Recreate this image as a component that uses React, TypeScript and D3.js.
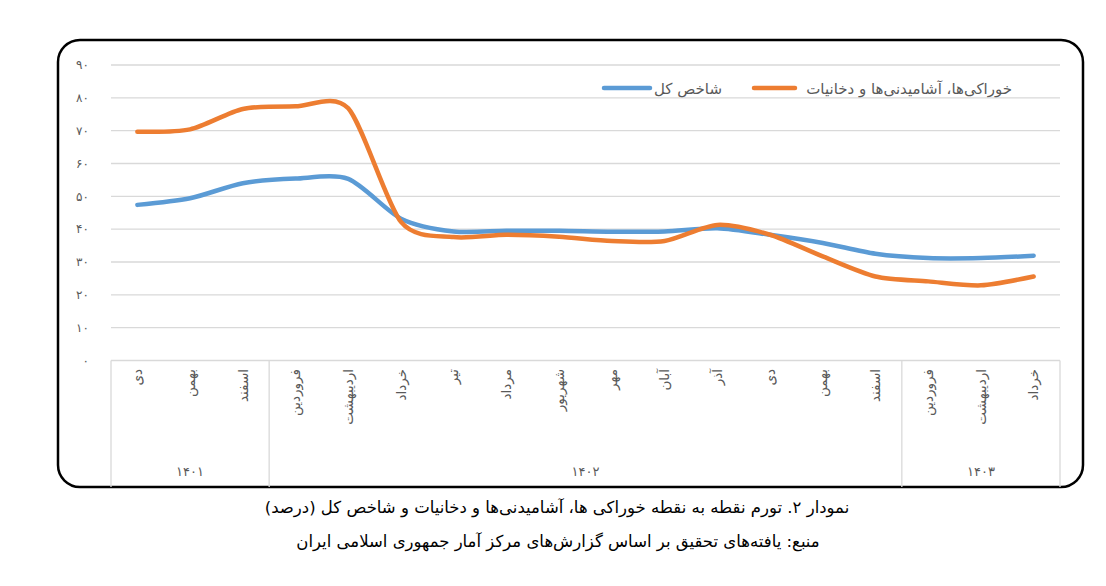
import React from "react";
import * as d3 from "d3";

const months = [
  "دی", "بهمن", "اسفند",
  "فروردین", "اردیبهشت", "خرداد", "تیر", "مرداد", "شهریور", "مهر", "آبان", "آذر", "دی", "بهمن", "اسفند",
  "فروردین", "اردیبهشت", "خرداد",
];
const years = ["۱۴۰۱", "۱۴۰۲", "۱۴۰۳"];
const yearSpans = [3, 12, 3];
const totalIndex = [47.4, 49.4, 54.0, 55.4, 55.3, 43.2, 39.3, 39.5, 39.5, 39.2, 39.3, 40.3, 38.3, 35.8, 32.5, 31.2, 31.2, 31.9];
const foodIndex = [69.7, 70.4, 76.6, 77.4, 76.8, 42.2, 37.6, 38.3, 37.7, 36.4, 36.4, 41.3, 38.3, 31.7, 25.6, 24.1, 22.9, 25.6];
const yTicks = [0, 10, 20, 30, 40, 50, 60, 70, 80, 90];
const yTickLabels = ["۰", "۱۰", "۲۰", "۳۰", "۴۰", "۵۰", "۶۰", "۷۰", "۸۰", "۹۰"];
const seriesNames = ["شاخص کل", "خوراکی‌ها، آشامیدنی‌ها و دخانیات"];
const captionTitle = "نمودار ۲. تورم نقطه به نقطه خوراکی ها، آشامیدنی‌ها و دخانیات و شاخص کل (درصد)";
const captionSource = "منبع: یافته‌های تحقیق بر اساس گزارش‌های مرکز آمار جمهوری اسلامی ایران";

const BLUE = "#5B9BD5";
const ORANGE = "#ED7D31";
const GRID = "#D9D9D9";
const FONT = "'DejaVu Sans', 'Noto Sans', sans-serif";

export default function App() {
  const W = 1106, H = 586;
  const x0 = 111, x1 = 1060;
  const yTop = 65, yBot = 360.5;
  const x = d3.scaleBand<number>().domain(months.map((_, i) => i)).range([x0, x1]);
  const y = d3.scaleLinear().domain([0, 90]).range([yBot, yTop]);
  const cx = (i: number) => (x(i) as number) + x.bandwidth() / 2;
  const line = d3.line<number>().x((_, i) => cx(i)).y((d) => y(d)).curve(d3.curveCardinal.tension(0.2));

  const bounds: number[] = [0];
  yearSpans.forEach((s, i) => bounds.push(bounds[i] + s));
  const bx = (k: number) => (k >= months.length ? x1 : (x(k) as number));

  return (
    <svg width={W} height={H} style={{ position: "absolute", left: 0, top: 0, background: "#fff" }} fontFamily={FONT}>
      <rect x={0} y={0} width={W} height={H} fill="#fff" />
      <rect x={58} y={40} width={1025} height={447} rx={22} ry={22} fill="none" stroke="#000" strokeWidth={2.5} />
      {yTicks.map((t, i) => (
        <g key={t}>
          {t > 0 && <line x1={x0} x2={x1} y1={y(t)} y2={y(t)} stroke={GRID} strokeWidth={1.3} />}
          <text x={89} y={y(t)} dy="0.35em" textAnchor="end" fontSize={12} fill="#595959">{yTickLabels[i]}</text>
        </g>
      ))}
      <line x1={x0} x2={x1} y1={yBot} y2={yBot} stroke={GRID} strokeWidth={1.3} />
      {bounds.map((b, i) => (
        <line key={i} x1={bx(b)} x2={bx(b)} y1={yBot} y2={487} stroke={GRID} strokeWidth={1.3} />
      ))}
      {months.map((m, i) => (
        <text key={i} transform={`translate(${cx(i)},369) rotate(-90)`} dy="0.35em" textAnchor="end" fontSize={13.5} fill="#595959">{m}</text>
      ))}
      {years.map((yr, i) => (
        <text key={yr} x={(bx(bounds[i]) + bx(bounds[i + 1])) / 2} y={471} dy="0.35em" textAnchor="middle" fontSize={13} fill="#595959">{yr}</text>
      ))}
      <path d={line(totalIndex) || ""} fill="none" stroke={BLUE} strokeWidth={4.5} strokeLinecap="round" />
      <path d={line(foodIndex) || ""} fill="none" stroke={ORANGE} strokeWidth={4.5} strokeLinecap="round" />
      <line x1={604} x2={650} y1={88} y2={88} stroke={BLUE} strokeWidth={4.5} strokeLinecap="round" />
      <text x={722} y={89} dy="0.35em" textAnchor="end" fontSize={15} fill="#595959">{seriesNames[0]}</text>
      <line x1={754} x2={795} y1={88} y2={88} stroke={ORANGE} strokeWidth={4.5} strokeLinecap="round" />
      <text x={1012} y={89} dy="0.35em" textAnchor="end" fontSize={15} fill="#595959">{seriesNames[1]}</text>
      <text x={557} y={507} dy="0.35em" textAnchor="middle" fontSize={16.5} fill="#000">{captionTitle}</text>
      <text x={558} y={541} dy="0.35em" textAnchor="middle" fontSize={16.5} fill="#000">{captionSource}</text>
    </svg>
  );
}
